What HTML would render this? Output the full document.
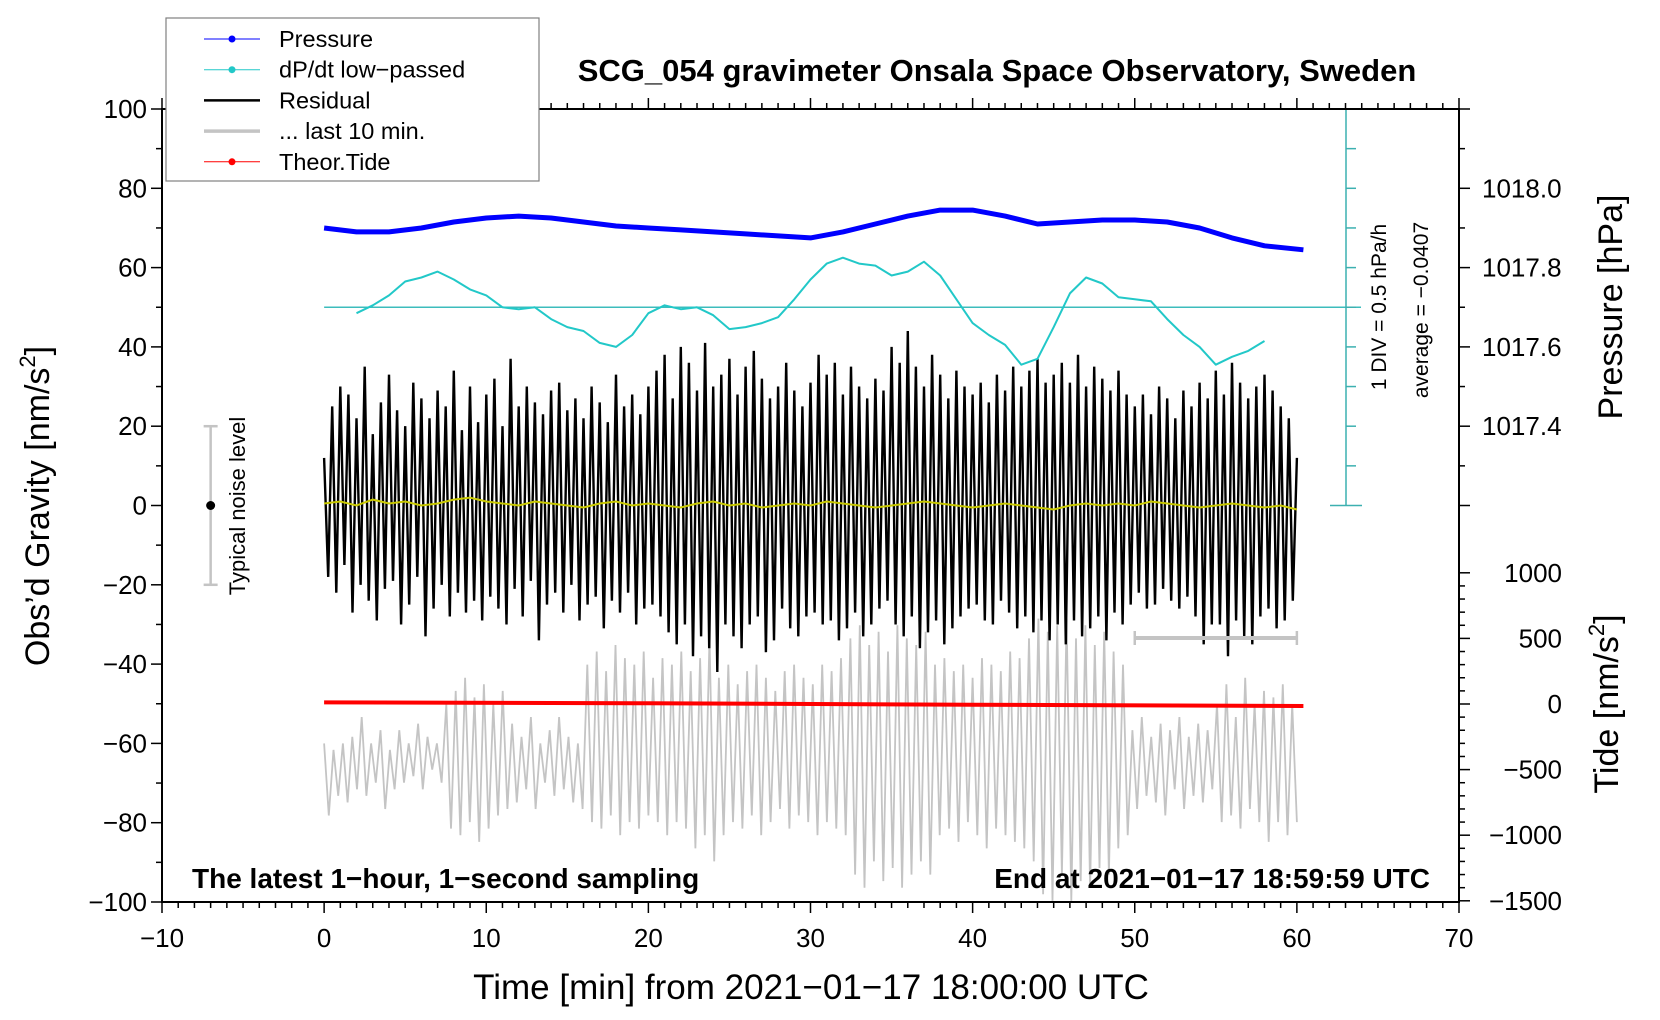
<!DOCTYPE html>
<html><head><meta charset="utf-8"><style>
html,body{margin:0;padding:0;background:#fff;overflow:hidden}
svg{display:block;font-family:"Liberation Sans",sans-serif}
</style></head><body>
<svg id="chart" width="1660" height="1020" xmlns="http://www.w3.org/2000/svg"></svg>
<script>
// ---- data ----
const pressureTimes=[0,2,4,6,8,10,12,14,16,18,20,22,24,26,28,30,32,34,36,38,40,42,44,46,48,50,52,54,56,58,60.4];
const pressureHpa=[1017.90,1017.89,1017.89,1017.90,1017.915,1017.925,1017.93,1017.925,1017.915,1017.905,1017.90,1017.895,1017.89,1017.885,1017.88,1017.875,1017.89,1017.91,1017.93,1017.945,1017.945,1017.93,1017.91,1017.915,1017.92,1017.92,1017.915,1017.90,1017.875,1017.855,1017.845];
const dpdtTimes=[2,3,4,5,6,7,8,9,10,11,12,13,14,15,16,17,18,19,20,21,22,23,24,25,26,27,28,29,30,31,32,33,34,35,36,37,38,39,40,41,42,43,44,45,46,47,48,49,50,51,52,53,54,55,56,57,58];
const dpdtPlot=[48.5,50.5,53,56.5,57.5,59,57,54.5,53,50,49.5,50,47,45,44,41,40,43,48.5,50.5,49.5,50,48,44.5,45,46,47.5,52,57,61,62.5,61,60.5,58,59,61.5,58,52,46,43,40.5,35.5,37,45,53.5,57.5,56,52.5,52,51.5,47,43,40,35.5,37.5,39,41.5];
const residual=[12,-18,25,-22,30,-15,28,-27,22,-20,35,-24,18,-29,26,-21,33,-19,24,-30,
20,-25,31,-18,27,-33,22,-26,29,-20,25,-28,34,-22,19,-27,30,-24,21,-29,
28,-23,32,-26,20,-30,37,-21,25,-28,30,-19,26,-34,23,-25,29,-22,31,-27,
24,-20,27,-29,22,-25,30,-23,26,-31,21,-24,33,-27,25,-22,28,-30,23,-26,
30,-25,34,-28,38,-32,27,-35,40,-30,36,-38,29,-33,41,-36,30,-42,33,-30,
37,-33,28,-36,35,-30,39,-28,32,-37,27,-34,30,-26,36,-31,29,-33,25,-28,
31,-27,38,-30,33,-29,36,-34,28,-31,35,-27,30,-33,27,-30,32,-26,29,-24,
40,-30,36,-33,44,-28,35,-36,30,-32,38,-29,33,-35,27,-31,34,-28,30,-26,
28,-25,31,-29,26,-30,33,-24,29,-27,35,-31,30,-28,34,-32,37,-29,31,-34,
33,-30,36,-35,31,-29,38,-33,30,-31,35,-28,32,-34,29,-27,34,-30,28,-25,
25,-22,28,-26,23,-25,30,-21,27,-24,22,-26,29,-23,25,-28,31,-35,27,-30,
34,-30,28,-38,36,-29,31,-33,27,-35,30,-28,33,-26,29,-31,25,-29,22,-24,12];
const smoothed=[0.5,1,0,1.5,0.5,1,0,0.5,1.5,2,1,0.5,0,1,0.5,0,-0.5,0.5,1,0,0.5,0,-0.5,0.5,1,0,0.5,-0.5,0,0.5,0,1,0.5,0,-0.5,0,0.5,1,0.5,0,-0.5,0,0.5,0,-0.5,-1,0,0.5,0,0.5,0,1,0.5,0,-0.5,0,0.5,0,-0.5,0,-1];
const last10=[-300,-850,-350,-700,-300,-750,-250,-650,-100,-700,-300,-600,-200,-800,-350,-650,
-200,-600,-300,-550,-150,-650,-250,-500,-300,-600,
0,-950,100,-1000,200,-900,50,-1050,150,-950,0,-850,100,-800,
-150,-750,-250,-650,-100,-800,-300,-600,-200,-700,-100,-650,-250,-750,-300,-800,
300,-900,400,-950,250,-850,450,-1000,350,-900,300,-950,400,-850,200,-900,350,-1000,300,-900,400,-950,250,-1100,350,-1000,500,-1200,
200,-1000,300,-900,150,-950,250,-850,300,-1000,200,-900,100,-800,250,-950,300,-850,200,-900,150,-1000,300,-900,250,-950,350,-1000,
500,-1300,600,-1400,450,-1200,550,-1350,400,-1250,600,-1400,500,-1300,450,-1200,550,-1300,
300,-1000,350,-950,250,-1050,300,-900,200,-1000,350,-1100,300,-950,250,-1000,400,-1050,350,-1100,
500,-1200,650,-1450,550,-1500,600,-1300,650,-1500,500,-1350,600,-1400,450,-1250,550,-1300,400,-1100,300,-1000,
-200,-800,-100,-700,-250,-750,-150,-850,-200,-650,-100,-800,-250,-700,-150,-750,-200,-650,
0,-900,150,-850,-100,-950,200,-800,0,-900,100,-1050,50,-900,150,-1000,0,-900];
const tideTimes=[0,20,40,60.4];
const tideValues=[12,5,-5,-15];
const xTicks=[-10,0,10,20,30,40,50,60,70];
const yTicks=[-100,-80,-60,-40,-20,0,20,40,60,80,100];
const pTicks=[1017.4,1017.6,1017.8,1018.0];
const tTicks=[1000,500,0,-500,-1000,-1500];

// ---- axes ----
const L=162,R=1459,T=109,B=902;
const X=v=>L+(v+10)/80*(R-L);
const Y=v=>B-(v+100)/200*(B-T);
const P=v=>Y(80+(v-1018)*100);
const TD=v=>704-v*(65.6/500);
const svg=document.getElementById('chart');
const NS='http://www.w3.org/2000/svg';
function mk(tag,attrs,parent){const e=document.createElementNS(NS,tag);for(const k in attrs)e.setAttribute(k,attrs[k]);(parent||svg).appendChild(e);return e;}
function txt(s,attrs,parent){const e=mk('text',attrs,parent);e.textContent=s;return e;}
function poly(xs,ys,fx,fy){return xs.map((t,i)=>fx(t).toFixed(1)+','+fy(ys[i]).toFixed(1)).join(' ');}

// ticks
const ticks=mk('g',{stroke:'#000','stroke-width':1.5});


for(let v=-10;v<=70;v++){const big=v%10===0;const x=X(v);
 mk('line',{x1:x,x2:x,y1:B,y2:B+(big?11:6)},ticks);mk('line',{x1:x,x2:x,y1:T,y2:T-(big?11:6)},ticks);}
for(let v=-100;v<=100;v+=10){const big=v%20===0;const y=Y(v);mk('line',{x1:L,x2:L-(big?11:6),y1:y,y2:y},ticks);}
for(let v=1017.2;v<=1018.21;v+=0.1){const y=P(v);const big=Math.round(v*10)%2===0;mk('line',{x1:R,x2:R+(big?11:6),y1:y,y2:y},ticks);}
for(let v=-1500;v<=1000;v+=100){const y=TD(v);const big=v%500===0;mk('line',{x1:R,x2:R+(big?11:6),y1:y,y2:y},ticks);}

// gray last-10
const g1=mk('polyline',{points:poly(last10.map((_,i)=>i*60/(last10.length-1)),last10,X,TD),fill:'none',stroke:'#c4c4c4','stroke-width':1.8});


// residual
const r1=mk('polyline',{points:poly(residual.map((_,i)=>i*60/(residual.length-1)),residual,X,Y),fill:'none',stroke:'#000','stroke-width':2.4});


const s1=mk('polyline',{points:poly(smoothed.map((_,i)=>i*60/(smoothed.length-1)),smoothed,X,Y),fill:'none',stroke:'#c8c800','stroke-width':2});


// tide
const t1=mk('polyline',{points:poly(tideTimes,tideValues,X,TD),fill:'none',stroke:'#ff0000','stroke-width':4});


// pressure
const p1=mk('polyline',{points:poly(pressureTimes,pressureHpa,X,P),fill:'none',stroke:'#0000ff','stroke-width':5,'stroke-linejoin':'round'});


// dpdt
const hl=mk('line',{x1:X(0),x2:1361,y1:Y(50),y2:Y(50),stroke:'#3cbcbc','stroke-width':1.5});


const d1=mk('polyline',{points:poly(dpdtTimes,dpdtPlot,X,Y),fill:'none',stroke:'#22c8c8','stroke-width':2,'stroke-linejoin':'round'});


// cyan scale
const cs=mk('g',{stroke:'#3cb0b0','stroke-width':1.5});


mk('line',{x1:1346,x2:1346,y1:Y(100),y2:Y(0)},cs);
mk('line',{x1:1330,x2:1362,y1:Y(100),y2:Y(100)},cs);
mk('line',{x1:1330,x2:1362,y1:Y(0),y2:Y(0)},cs);
for(let v=10;v<100;v+=10)mk('line',{x1:1346,x2:1356,y1:Y(v),y2:Y(v)},cs);
// noise bar
const nb=mk('g',{stroke:'#c4c4c4','stroke-width':2.5});


mk('line',{x1:X(-7),x2:X(-7),y1:Y(20),y2:Y(-20)},nb);
mk('line',{x1:X(-7)-7,x2:X(-7)+7,y1:Y(20),y2:Y(20)},nb);
mk('line',{x1:X(-7)-7,x2:X(-7)+7,y1:Y(-20),y2:Y(-20)},nb);
mk('circle',{cx:X(-7),cy:Y(0),r:4.5,fill:'#000',stroke:'none'},nb);
// 10 min bar
const tb=mk('g',{stroke:'#c4c4c4','stroke-width':4});


mk('line',{x1:X(50),x2:X(60),y1:638,y2:638},tb);
mk('line',{x1:X(50),x2:X(50),y1:631,y2:645,'stroke-width':2.5},tb);
mk('line',{x1:X(60),x2:X(60),y1:631,y2:645,'stroke-width':2.5},tb);

// frame
const fr=mk('rect',{x:L,y:T,width:R-L,height:B-T,fill:'none',stroke:'#000','stroke-width':2});



// tick labels
const lab=mk('g',{'font-size':26,fill:'#000'});


xTicks.forEach(v=>txt(String(v).replace('-','\u2212'),{x:X(v),y:947,'text-anchor':'middle'},lab));
yTicks.forEach(v=>txt(String(v).replace('-','\u2212'),{x:L-15,y:Y(v)+9,'text-anchor':'end'},lab));
pTicks.forEach(v=>txt(v.toFixed(1),{x:1482,y:P(v)+9},lab));
tTicks.forEach(v=>txt(String(v).replace('-','\u2212'),{x:1562,y:TD(v)+9,'text-anchor':'end'},lab));

// titles
const tt=txt('SCG_054 gravimeter Onsala Space Observatory, Sweden',{x:997,y:81,'text-anchor':'middle','font-size':31,'font-weight':'bold'});

const xt=txt('Time [min] from 2021\u221201\u221217 18:00:00 UTC',{x:811,y:999,'text-anchor':'middle','font-size':35});

const yt=mk('text',{transform:'translate(49,506) rotate(-90)','text-anchor':'middle','font-size':34});
yt.innerHTML='Obs\u2019d Gravity [nm/s<tspan font-size="22" dy="-14">2</tspan><tspan dy="14">]</tspan>';

const pt=txt('Pressure [hPa]',{transform:'translate(1622,307) rotate(-90)','text-anchor':'middle','font-size':34});

const tdt=mk('text',{transform:'translate(1618,704) rotate(-90)','text-anchor':'middle','font-size':34});
tdt.innerHTML='Tide [nm/s<tspan font-size="22" dy="-14">2</tspan><tspan dy="14">]</tspan>';

const nl=txt('Typical noise level',{transform:'translate(245,506) rotate(-90)','text-anchor':'middle','font-size':22});

const dv=txt('1 DIV = 0.5 hPa/h',{transform:'translate(1386,307) rotate(-90)','text-anchor':'middle','font-size':21});

const av=txt('average = \u22120.0407',{transform:'translate(1428,310) rotate(-90)','text-anchor':'middle','font-size':21});

const n1=txt('The latest 1\u2212hour, 1\u2212second sampling',{x:192,y:888,'font-size':28,'font-weight':'bold'});

const n2=txt('End at 2021\u221201\u221217 18:59:59 UTC',{x:1430,y:888,'text-anchor':'end','font-size':28,'font-weight':'bold'});


// legend
const lg=mk('g',{});


mk('rect',{x:166,y:18,width:373,height:163,fill:'#fff',stroke:'#808080','stroke-width':1.2},lg);
const legItems=[['Pressure','#0000ff',1,true],['dP/dt low\u2212passed','#22c8c8',1,true],['Residual','#000',2.5,false],['... last 10 min.','#c4c4c4',3.5,false],['Theor.Tide','#ff0000',1,true]];
legItems.forEach((it,i)=>{const y=39+i*30.7;
 const e=mk('g',{},lg);
 
 
 mk('line',{x1:204,x2:260,y1:y,y2:y,stroke:it[1],'stroke-width':it[2]},e);
 if(it[3])mk('circle',{cx:232,cy:y,r:3.5,fill:it[1]},e);
 txt(it[0],{x:279,y:y+8,'font-size':23.5},e);});
</script>
</body></html>
